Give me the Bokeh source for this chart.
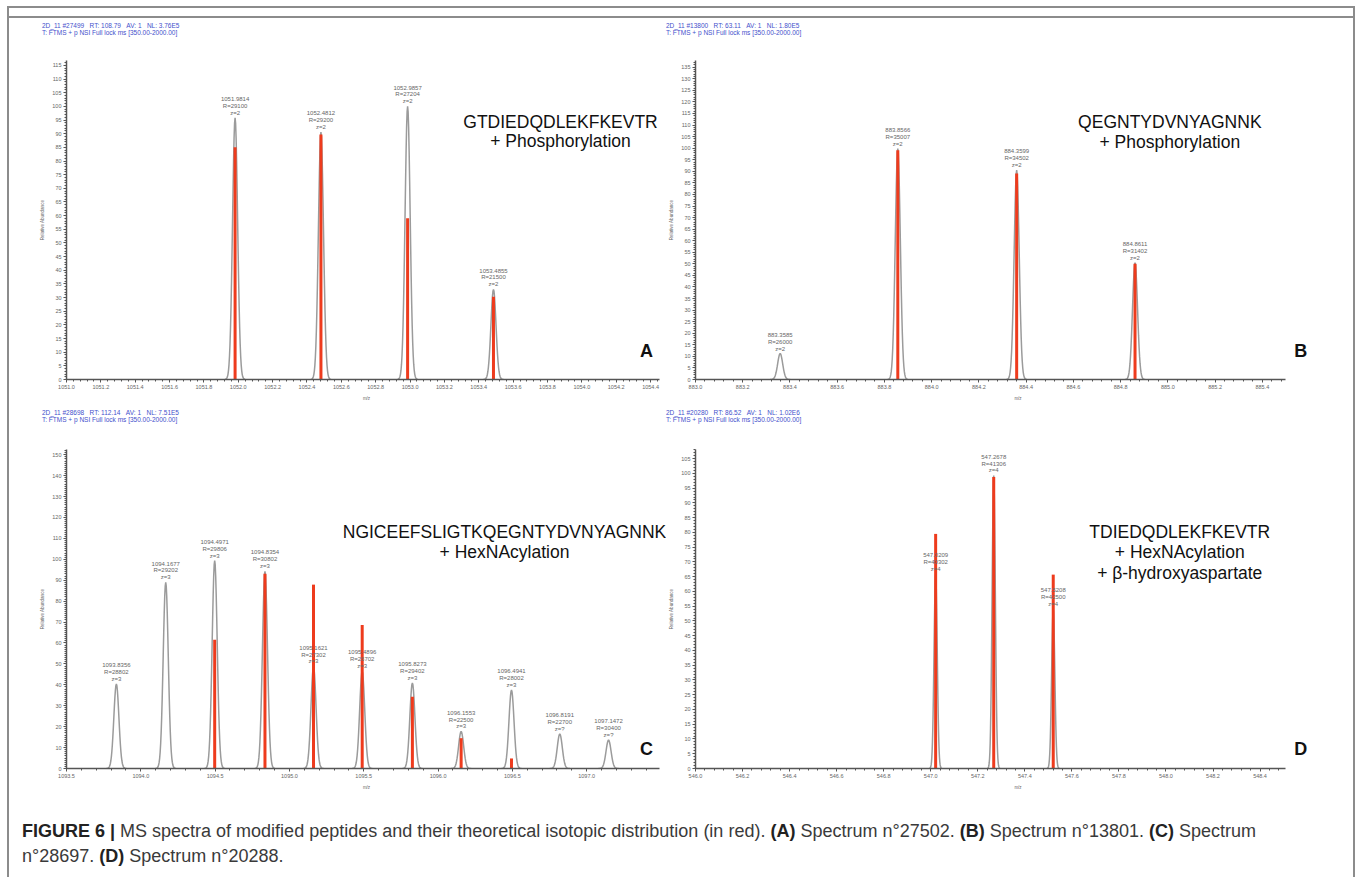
import numpy as np
from bokeh.plotting import figure
from bokeh.models import (Range1d, SingleIntervalTicker, PrintfTickFormatter, Label, Div, Spacer)
from bokeh.layouts import column, row
from bokeh.embed import file_html
from bokeh.resources import INLINE
from bokeh.core.properties import value

# ---------------- data ----------------
# Panel A
a_mz = [1051.9814, 1052.4812, 1052.9857, 1053.4855]
a_res = [29100, 29200, 27204, 21500]
a_z = ["2", "2", "2", "2"]
a_obs = [95.8, 90.6, 100.0, 33.0]
a_theo_mz = [1051.9814, 1052.4812, 1052.9857, 1053.4855]
a_theo = [85.0, 89.7, 59.0, 30.3]
a_header = ["2D_11 #27499  RT: 108.79  AV: 1  NL: 3.76E5",
            "T: FTMS + p NSI Full lock ms [350.00-2000.00]"]
a_peptide = ["GTDIEDQDLEKFKEVTR", "+ Phosphorylation"]

# Panel B
b_mz = [883.3585, 883.8566, 884.3599, 884.8611]
b_res = [26000, 35007, 34502, 31402]
b_z = ["2", "2", "2", "2"]
b_obs = [11.2, 99.8, 90.5, 50.5]
b_theo_mz = [883.8566, 884.3599, 884.8611]
b_theo = [99.1, 89.0, 50.0]
b_header = ["2D_11 #13800  RT: 63.11  AV: 1  NL: 1.80E5",
            "T: FTMS + p NSI Full lock ms [350.00-2000.00]"]
b_peptide = ["QEGNTYDVNYAGNNK", "+ Phosphorylation"]

# Panel C
c_mz = [1093.8356, 1094.1677, 1094.4971, 1094.8354, 1095.1621, 1095.4896,
        1095.8273, 1096.1553, 1096.4941, 1096.8191, 1097.1472]
c_res = [28802, 29202, 29806, 30802, 27302, 26702, 29402, 22500, 28002, 22700, 30400]
c_z = ["3", "3", "3", "3", "3", "3", "3", "3", "3", "?", "?"]
c_obs = [40.4, 89.0, 99.4, 94.3, 48.8, 46.5, 40.9, 17.7, 37.5, 16.5, 13.6]
c_theo_mz = [1094.4971, 1094.8354, 1095.1621, 1095.4896, 1095.8273, 1096.1553, 1096.4941]
c_theo = [61.5, 93.1, 87.9, 68.6, 34.3, 14.5, 4.8]
c_header = ["2D_11 #28698  RT: 112.14  AV: 1  NL: 7.51E5",
            "T: FTMS + p NSI Full lock ms [350.00-2000.00]"]
c_peptide = ["NGICEEFSLIGTKQEGNTYDVNYAGNNK", "+ HexNAcylation"]

# Panel D
d_mz = [547.0209, 547.2678, 547.5208]
d_res = [40302, 41306, 42500]
d_z = ["4", "4", "4"]
d_obs = [66.0, 99.3, 54.1]
d_theo_mz = [547.0209, 547.2678, 547.5208]
d_theo = [79.5, 98.8, 65.7]
d_header = ["2D_11 #20280  RT: 86.52  AV: 1  NL: 1.02E6",
            "T: FTMS + p NSI Full lock ms [350.00-2000.00]"]
d_peptide = ["TDIEDQDLEKFKEVTR", "+ HexNAcylation", "+ \u03b2-hydroxyaspartate"]

# ---------------- styling ----------------
RED = "#ee3b1d"
GRAY = "#9b9b9b"
AX = "#555555"
BLUE = "#4450cc"
BORDER = "#8c8c8c"
FONT = "Liberation Sans"
Z = (0, 0, 0, 0)


def panel(fig_x, fig_y, w, h, axis_px, frame, xlim, ylim, x_int, y_int, y_minor,
          mz, res, zs, obs, theo_mz, theo, sigma, peptide, pep_cx, pep_y,
          letter, letter_xy):
    """axis_px = (left, right) pixel extent of the drawn x axis; frame = (fl, fr, ft, fb)."""
    fl, fr, ft, fb = frame
    ax_l, ax_r = axis_px
    scale = (xlim[1] - xlim[0]) / (ax_r - ax_l)
    xr = (xlim[0] + (fl - ax_l) * scale, xlim[0] + (fr - ax_l) * scale)
    yr = ylim
    p = figure(width=w, height=h, x_range=Range1d(*xr), y_range=Range1d(*yr),
               output_backend="svg", toolbar_location=None,
               min_border_left=fl - fig_x, min_border_right=fig_x + w - fr,
               min_border_top=ft - fig_y, min_border_bottom=fig_y + h - fb)
    p.xgrid.visible = False
    p.ygrid.visible = False
    p.outline_line_color = None
    p.background_fill_color = "white"
    p.border_fill_color = "white"

    p.xaxis.ticker = SingleIntervalTicker(interval=x_int, num_minor_ticks=5)
    p.xaxis.formatter = PrintfTickFormatter(format="%.1f")
    p.xaxis.bounds = (xlim[0], xlim[1])
    p.yaxis.ticker = SingleIntervalTicker(interval=y_int, num_minor_ticks=y_minor)
    p.xaxis.axis_label = "m/z"
    p.yaxis.axis_label = "Relative Abundance"
    for ax in (p.xaxis[0], p.yaxis[0]):
        ax.axis_line_color = AX
        ax.axis_line_width = 1.5
        ax.major_tick_line_color = AX
        ax.minor_tick_line_color = AX
        ax.major_tick_in = 0
        ax.major_tick_out = 3
        ax.minor_tick_in = 0
        ax.minor_tick_out = 2
        ax.major_label_text_font = FONT
        ax.major_label_text_font_size = "5.5px"
        ax.major_label_text_color = "#666666"
        ax.major_label_standoff = 2
        ax.axis_label_text_font = FONT
        ax.axis_label_text_font_size = "4.5px"
        ax.axis_label_text_font_style = "normal"
        ax.axis_label_text_color = "#666666"
        ax.axis_label_standoff = 4

    # observed profile peaks
    xs, ys = [], []
    t = np.linspace(-4, 4, 41)
    for c, hh in zip(mz, obs):
        xs.append(list(c + t * sigma))
        ys.append(list(hh * np.exp(-0.5 * t * t)))
    p.multi_line(xs, ys, line_color=GRAY, line_width=1.5)

    # theoretical isotopic distribution
    p.segment(x0=theo_mz, y0=[0] * len(theo), x1=theo_mz, y1=theo,
              line_color=RED, line_width=3, line_cap="butt")

    # peak annotations
    texts = [f"{m:.4f}\nR={r}\nz={z}" for m, r, z in zip(mz, res, zs)]
    p.text(x=mz, y=obs, text=texts, text_font=value(FONT), text_font_size="6px",
           text_color="#666666", text_align="center", text_baseline="bottom",
           y_offset=-2, text_line_height=1.15)

    def to_data(px, py):
        x = xr[0] + (px - fl) / (fr - fl) * (xr[1] - xr[0])
        y = yr[0] + (fb - py) / (fb - ft) * (yr[1] - yr[0])
        return x, y

    for i, line in enumerate(peptide):
        x, y = to_data(pep_cx, pep_y[i])
        p.add_layout(Label(x=x, y=y, text=line, text_font=FONT, text_font_size="17.5px",
                           text_color="#111111", text_align="center", text_baseline="middle"))
    x, y = to_data(*letter_xy)
    p.add_layout(Label(x=x, y=y, text=letter, text_font=FONT, text_font_size="18px",
                       text_font_style="bold", text_color="#111111",
                       text_align="center", text_baseline="middle"))
    return p


def header_div(lines, w, h, pad_top, pad_left):
    body = "<br>".join(l.replace("  ", "&nbsp;&nbsp;&nbsp;") for l in lines)
    html = (f'<div style="font-family:\'Liberation Sans\',Arial,sans-serif;font-size:6.5px;'
            f'line-height:7px;color:{BLUE};padding:{pad_top}px 0 0 {pad_left}px;'
            f'white-space:nowrap;">{body}</div>')
    return Div(text=html, width=w, height=h, margin=Z)


# absolute page geometry: content column spans x 9..1353
pA = panel(9, 40, 657, 365, (66, 659), (66, 666, 60, 379), (1051.0, 1054.452), (0, 116.8),
           0.2, 5, 5, a_mz, a_res, a_z, a_obs, a_theo_mz, a_theo, 0.0148,
           a_peptide, 560, [121.7, 140.5], "A", (646, 350))
pB = panel(666, 40, 687, 365, (690, 1285), (690, 1340, 60, 379), (883.0, 885.5), (0, 137.9),
           0.2, 5, 5, b_mz, b_res, b_z, b_obs, b_theo_mz, b_theo, 0.0107,
           b_peptide, 1168, [121.7, 141], "B", (1300, 350))
pC = panel(9, 428, 657, 382, (66, 659), (66, 666, 449, 768), (1093.5, 1097.49), (0, 152.5),
           0.5, 10, 10, c_mz, c_res, c_z, c_obs, c_theo_mz, c_theo, 0.017,
           c_peptide, 504, [531.7, 551.7], "C", (646, 748))
pD = panel(666, 428, 687, 382, (690, 1285), (690, 1340, 449, 768), (546.0, 548.51), (0, 108.1),
           0.2, 5, 5, d_mz, d_res, d_z, d_obs, d_theo_mz, d_theo, 0.0068,
           d_peptide, 1178, [531.7, 551.7, 572.3], "D", (1300, 748))

hdr_top = row(header_div(a_header, 657, 32, 14, 33), header_div(b_header, 687, 32, 14, 0))
hdr_bot = row(header_div(c_header, 657, 23, 4, 33), header_div(d_header, 687, 23, 4, 0))

caption_html = (
    '<div style="font-family:\'Liberation Sans\',Arial,sans-serif;font-size:18px;'
    'line-height:25px;color:#3a3a3a;padding:9px 0 0 13px;white-space:nowrap;">'
    '<b style="color:#222">FIGURE 6 |</b> MS spectra of modified peptides and their theoretical '
    'isotopic distribution (in red). <b style="color:#222">(A)</b> Spectrum n\u00b027502. '
    '<b style="color:#222">(B)</b> Spectrum n\u00b013801. <b style="color:#222">(C)</b> Spectrum<br>'
    'n\u00b028697. <b style="color:#222">(D)</b> Spectrum n\u00b020288.</div>'
)
caption = Div(text=caption_html, width=1344, height=67, margin=Z)


def rule(w, h):
    return Div(text=f'<div style="width:{w}px;height:{h}px;background:{BORDER}"></div>',
               width=w, height=h, margin=Z, styles={"background-color": BORDER})


left = column(Spacer(width=9, height=6, margin=Z),
              row(Spacer(width=7, height=871, margin=Z), rule(2, 871)))
middle = column(Spacer(width=1344, height=6, margin=Z),
                rule(1344, 2),
                hdr_top,
                row(pA, pB),
                hdr_bot,
                row(pC, pD),
                caption)
right = column(Spacer(width=2, height=6, margin=Z), rule(2, 871))

layout = row(left, middle, right)

open("out.html", "w").write(file_html(layout, INLINE))
